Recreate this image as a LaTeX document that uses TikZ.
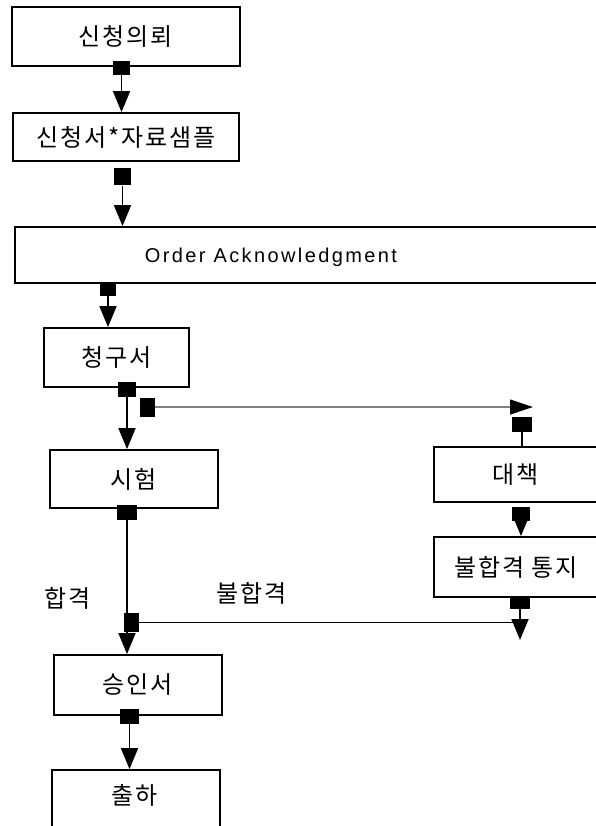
\documentclass[tikz,border=0pt]{standalone}
\usepackage{fontspec}
\setmainfont{Liberation Sans}
\newfontfamily\kr[LetterSpace=8]{Noto Sans CJK KR}
\newfontfamily\lat[LetterSpace=12]{Liberation Sans}
\usetikzlibrary{arrows.meta}
\begin{document}
\begin{tikzpicture}[x=1pt,y=-1pt,
  box/.style={draw,line width=1.8pt,inner sep=0pt,font=\kr\fontsize{24}{28}\selectfont},
  txt/.style={inner sep=0pt,font=\kr\fontsize{24}{28}\selectfont},
  sqr/.style 2 args={fill=black,inner sep=0pt,minimum width=#1pt,minimum height=#2pt},
  conn/.style={line width=1.8pt,-{Triangle[width=17pt,length=21pt]}},
  plain/.style={line width=1.8pt},
  greyline/.style={draw=gray,line width=1.2pt,-{Triangle[width=15pt,length=23pt,color=black]}},
  thinline/.style={line width=1.1pt}]
\clip (0,0) rectangle (596,826);
% boxes
\node[box,minimum width=228pt,minimum height=59pt] (b1) at (126,36.5) {신청의뢰};
\node[box,minimum width=226pt,minimum height=48pt] (b2) at (126,137) {신청서*자료샘플};
\node[box,minimum width=625pt,minimum height=56pt] (b3) at (327.5,255) {};
\node[inner sep=0pt,font=\lat\fontsize{20}{24}\selectfont] (t3) at (271,257) {Order Acknowledgment};
\node[box,minimum width=145pt,minimum height=59pt] (b4) at (116.5,357.5) {청구서};
\node[box,minimum width=168pt,minimum height=58pt] (b5) at (134,479) {시험};
\node[box,minimum width=164pt,minimum height=55pt] (b6) at (516,474.5) {대책};
\node[box,minimum width=164pt,minimum height=60pt] (b7) at (516,567) {불합격 통지};
\node[box,minimum width=168pt,minimum height=60pt] (b8) at (138,685) {승인서};
\node[box,minimum width=168pt,minimum height=70pt] (b9) at (136,805) {};
\node[txt] (t9) at (135,795) {출하};
% labels
\node[txt] (l1) at (68,598) {합격};
\node[txt] (l2) at (252,593) {불합격};
% square markers
\node[sqr={17}{14}] (s1) at (121.5,68) {};
\node[sqr={17}{17}] (s2) at (122.5,177) {};
\node[sqr={16}{14}] (s3) at (108,289) {};
\node[sqr={18}{15}] (s4) at (127,389.5) {};
\node[sqr={15}{19}] (s4b) at (147.5,407) {};
\node[sqr={20}{15}] (s5) at (522,424.5) {};
\node[sqr={20}{15}] (s6) at (127,512.5) {};
\node[sqr={15}{19}] (s7) at (131.5,622.5) {};
\node[sqr={18}{14}] (s8) at (521,514) {};
\node[sqr={20}{12}] (s9) at (520,603) {};
\node[sqr={19}{15}] (s10) at (129.5,716.5) {};
\coordinate (c1) at (533,407);
\coordinate (c2) at (520,640);
% connectors
\draw[conn] (s1.south) -- (s1.south |- b2.north);
\draw[conn] (s2.south) -- (s2.south |- b3.north);
\draw[conn] (s3.south) -- (s3.south |- b4.north);
\draw[conn] (s4.south) -- (s4.south |- b5.north);
\draw[greyline] (s4b.east) -- (c1);
\draw[plain] (s5.south) -- (s5.south |- b6.north);
\draw[conn] (s8.south) -- (s8.south |- b7.north);
\draw[conn] (s9.south) -- (c2);
\draw[plain] (s6.south) -- (s6.south |- s7.north);
\draw[conn] (s6.south |- s7.south) -- (s6.south |- b8.north);
\draw[thinline] (s7.east) -- (s7.east -| c2);
\draw[conn] (s10.south) -- (s10.south |- b9.north);
\end{tikzpicture}
\end{document}
